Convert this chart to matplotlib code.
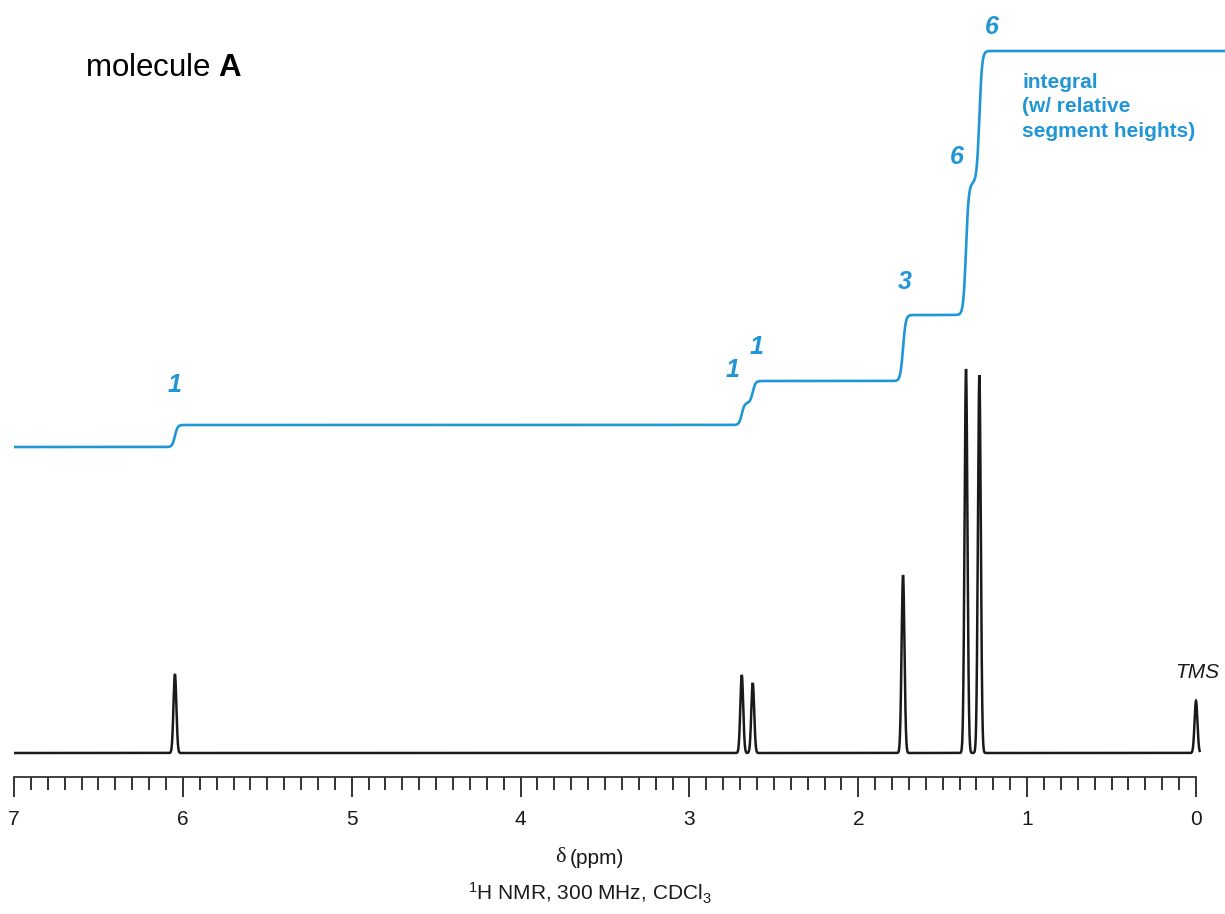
import numpy as np
import matplotlib
matplotlib.use('Agg')
import matplotlib.pyplot as plt
from matplotlib.ticker import FixedLocator

plt.rcParams['font.family'] = ['Liberation Sans', 'DejaVu Sans']
plt.rcParams['mathtext.fontset'] = 'custom'
plt.rcParams['mathtext.rm'] = 'Liberation Sans'
plt.rcParams['mathtext.it'] = 'Liberation Sans:italic'
plt.rcParams['mathtext.bf'] = 'Liberation Sans:bold'

# Peak data (ppm, height in arbitrary units, proton count)
peak_ppm = [6.047, 2.690, 2.625, 1.735, 1.362, 1.283]
peak_height = [79, 78, 70, 178, 384, 378]
peak_protons = [1, 1, 1, 3, 6, 6]
tms_ppm = 0.0
tms_height = 52

# integral curve: baseline level and height per proton
integral_base = 306
integral_unit = 22

blue = '#2196d6'
dark = '#1a1a1a'

fig = plt.figure(figsize=(12.25, 9.14), dpi=100)
px_per_ppm = 1182 / 7
x_right = 7 - 1211 / px_per_ppm
ax = fig.add_axes([14 / 1225, 137 / 914, 1211 / 1225, 777 / 914])
ax.set_xlim(7, x_right)
ax.set_ylim(-24, 753)

# spectrum as sum of narrow gaussians
sigma = 0.0085
ppm = np.arange(7.0, -0.022, -0.0004)
spec = np.zeros_like(ppm)
for c, h in zip(peak_ppm + [tms_ppm], peak_height + [tms_height]):
    spec += h * np.exp(-0.5 * ((ppm - c) / sigma) ** 2)
ax.plot(ppm, spec, color=dark, lw=1.8, solid_joinstyle='miter')

# integral trace: smoothed steps at each multiplet
ppm_i = np.arange(7.0, x_right - 0.01, -0.001)
integ = np.full_like(ppm_i, integral_base, dtype=float)
for c, n in zip(peak_ppm, peak_protons):
    integ += integral_unit * n * 0.5 * (1 + np.tanh((c - ppm_i) / 0.016))
ax.plot(ppm_i, integ, color=blue, lw=1.9)

# integral labels
lab_kw = dict(color=blue, fontsize=18, fontweight='bold', fontstyle='italic',
              ha='center', va='center')
ax.text(6.047, 368, '1', **lab_kw)
ax.text(2.742, 383, '1', **lab_kw)
ax.text(2.600, 406, '1', **lab_kw)
ax.text(1.723, 471, '3', **lab_kw)
ax.text(1.415, 596, '6', **lab_kw)
ax.text(1.208, 726, '6', **lab_kw)
ax.text(1.030, 680, 'integral\n(w/ relative\nsegment heights)', color=blue,
        fontsize=15, fontweight='bold', ha='left', va='top', linespacing=1.36)

ax.text(6.58, 685, 'molecule $\\mathbf{A}$', fontsize=22.5, ha='left', va='center',
        color='black')
ax.text(-0.006, 81, 'TMS', fontsize=15, fontstyle='italic', ha='center',
        va='center', color=dark)

# axis styling
for s in ['top', 'left', 'right']:
    ax.spines[s].set_visible(False)
ax.spines['bottom'].set_bounds(0, 7)
ax.spines['bottom'].set_color('#333333')
ax.spines['bottom'].set_linewidth(1.3)
ax.set_yticks([])
ax.set_xticks(np.arange(0, 8, 1))
ax.set_xticklabels([str(i) for i in range(0, 8)])
ax.xaxis.set_minor_locator(FixedLocator(np.round(np.arange(0.1, 7.0, 0.1), 1)))
ax.tick_params(axis='x', which='major', direction='out', length=14.5, width=1.4,
               color='#333333', labelsize=15, pad=9, labelcolor=dark)
ax.tick_params(axis='x', which='minor', direction='out', length=9.5, width=1.4,
               color='#333333')

fig.text(566 / 1225, 1 - 858 / 914, 'δ', family='Liberation Serif', fontsize=16,
         ha='right', va='center', color=dark)
fig.text(570 / 1225, 1 - 858 / 914, '(ppm)', fontsize=15, ha='left', va='center',
         color=dark)
fig.text(590 / 1225, 1 - 893 / 914, '$^{1}$H NMR, 300 MHz, CDCl$_{3}$', fontsize=15,
         ha='center', va='center', color=dark)

fig.savefig('out.png', dpi=100, facecolor='white')
